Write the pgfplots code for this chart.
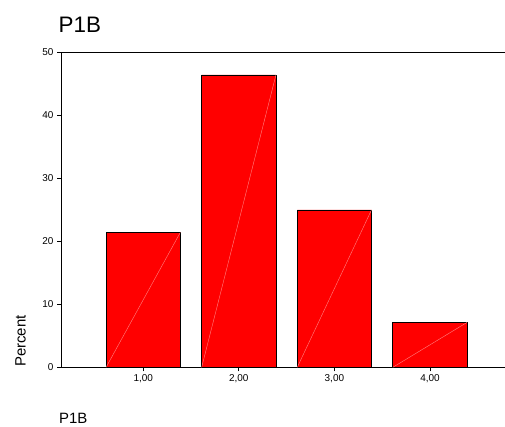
\documentclass[border=0pt]{standalone}
\usepackage{fontspec}
\setmainfont{Liberation Sans}
\usepackage{pgfplots}
\pgfplotsset{compat=1.18}
\definecolor{diag}{RGB}{255,130,130}
\begin{document}
\begin{tikzpicture}[x=1bp,y=1bp]
\path[use as bounding box] (0,0) rectangle (505,426);
\begin{axis}[
  at={(61bp,58.7bp)}, anchor=south west,
  scale only axis, width=444bp, height=314.8bp,
  xmin=0.14, xmax=4.785, ymin=0, ymax=50,
  enlargelimits=false,
  axis x line=box, axis y line=left,
  axis line style={-, line width=0.8bp, black},
  xtick pos=lower, ytick pos=left,
  tick align=outside, major tick length=4bp,
  tick style={black, line width=0.8bp},
  xtick={1,2,3,4}, xticklabels={{1,00},{2,00},{3,00},{4,00}},
  ytick={0,10,20,30,40,50},
  tick label style={font=\fontsize{10}{12}\selectfont},
  /pgf/number format/assume math mode=true,
]
\addplot[ybar, bar width=0.777, fill=red, draw=black, line width=0.8bp]
  coordinates {(1,21.43) (2,46.43) (3,25.00) (4,7.14)};
\addplot[diag, line width=0.4bp, no marks] coordinates {(0.6115,0) (1.3885,21.43)};
\addplot[diag, line width=0.4bp, no marks] coordinates {(1.6115,0) (2.3885,46.43)};
\addplot[diag, line width=0.4bp, no marks] coordinates {(2.6115,0) (3.3885,25.00)};
\addplot[diag, line width=0.4bp, no marks] coordinates {(3.6115,0) (4.3885,7.14)};
\end{axis}
\node[anchor=base west, inner sep=0, font=\fontsize{22.5}{26}\selectfont] at (58.5,393) {P1B};
\node[anchor=base west, inner sep=0, rotate=90, font=\fontsize{15}{18}\selectfont] at (25.5,59) {Percent};
\node[anchor=base west, inner sep=0, font=\fontsize{15}{18}\selectfont] at (59,2.5) {P1B};
\end{tikzpicture}
\end{document}
